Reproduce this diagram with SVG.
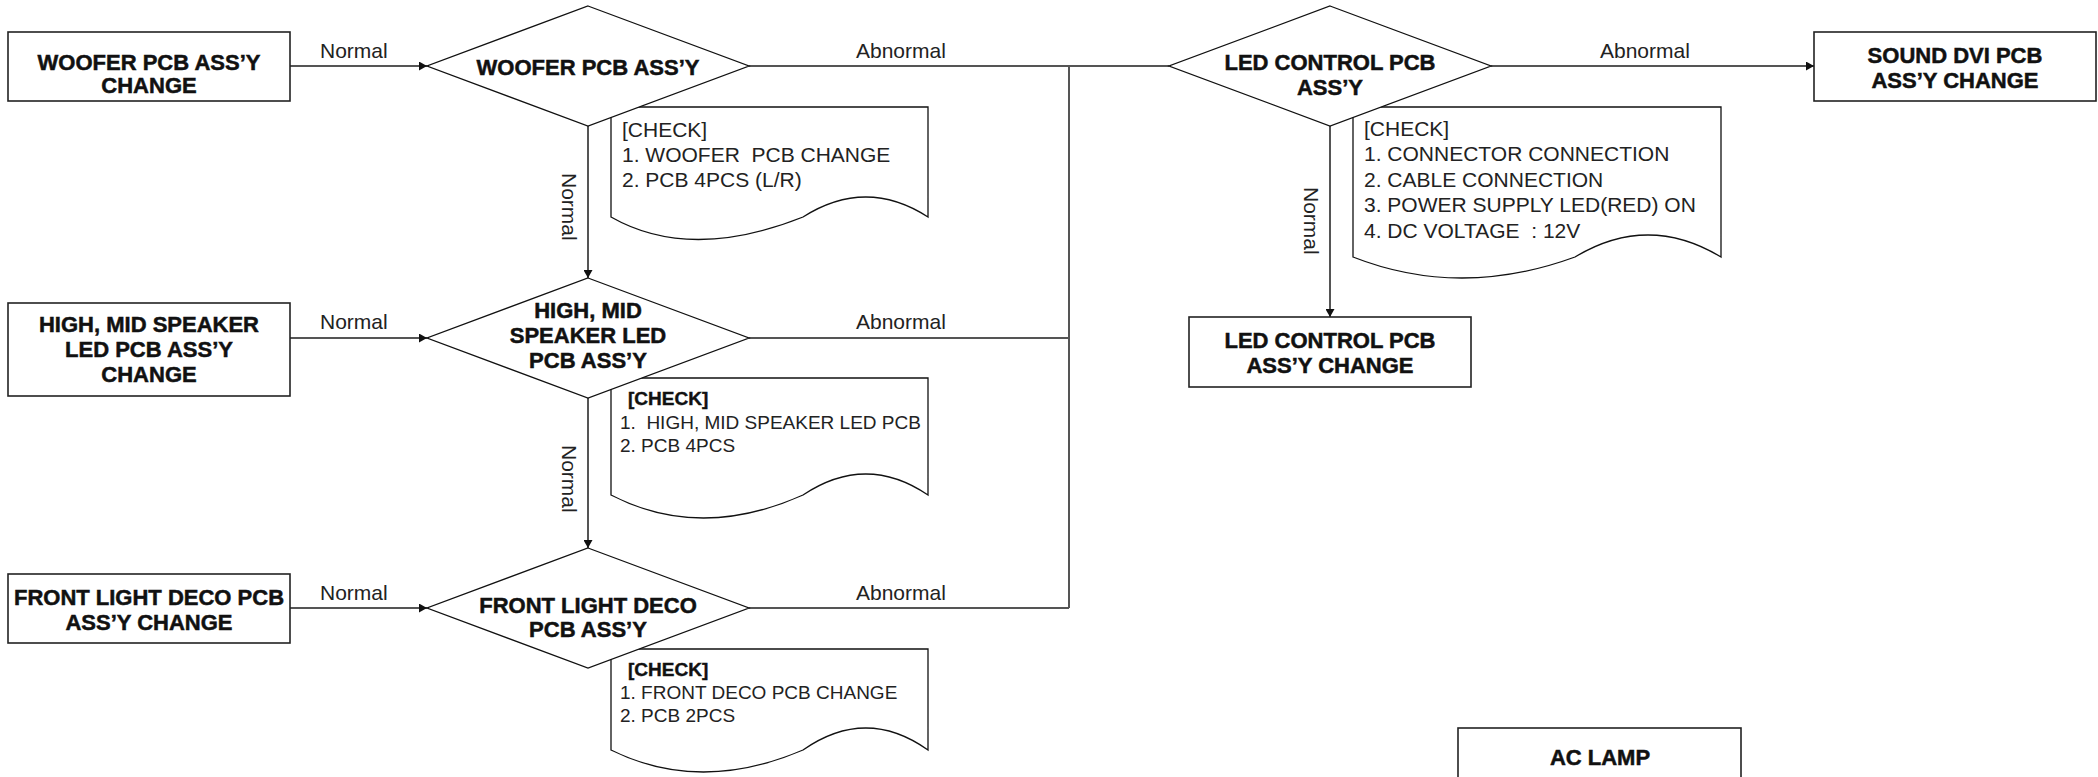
<svg xmlns="http://www.w3.org/2000/svg" width="2098" height="777" viewBox="0 0 2098 777">
<defs>
<style>
.box{fill:#fff;stroke:#222;stroke-width:1.6}
.dia{fill:#fff;stroke:#111;stroke-width:1.3}
.doc{fill:#fff;stroke:#111;stroke-width:1.3}
.con{fill:none;stroke:#555;stroke-width:2}
.b{font-family:"Liberation Sans",Arial,sans-serif;font-weight:bold;font-size:22px;fill:#111;stroke:#111;stroke-width:0.5;text-anchor:middle}
.lbl{font-family:"Liberation Sans",Arial,sans-serif;font-size:21px;fill:#222}
.chk{font-family:"Liberation Sans",Arial,sans-serif;font-size:21px;fill:#222}
.chk2{font-family:"Liberation Sans",Arial,sans-serif;font-size:19px;fill:#222}
.chkb{font-family:"Liberation Sans",Arial,sans-serif;font-size:19px;font-weight:bold;fill:#111;stroke:#111;stroke-width:0.4}
</style>
<marker id="arr" markerWidth="9" markerHeight="9" refX="8" refY="4.5" orient="auto" markerUnits="userSpaceOnUse">
<path d="M0,0 L8,4.5 L0,9 z" fill="#111"/>
</marker>
</defs>
<rect width="2098" height="777" fill="#fff"/>

<g id="connectors">
<line class="con" x1="290" y1="66" x2="427" y2="66" marker-end="url(#arr)"/>
<line class="con" x1="290" y1="338" x2="427" y2="338" marker-end="url(#arr)"/>
<line class="con" x1="290" y1="608" x2="427" y2="608" marker-end="url(#arr)"/>
<line class="con" x1="588" y1="126" x2="588" y2="278" marker-end="url(#arr)"/>
<line class="con" x1="588" y1="398" x2="588" y2="548" marker-end="url(#arr)"/>
<polyline class="con" points="749,66 1069,66 1169,66"/>
<line class="con" x1="749" y1="338" x2="1069" y2="338"/>
<line class="con" x1="749" y1="608" x2="1069" y2="608"/>
<line class="con" x1="1069" y1="66" x2="1069" y2="608"/>
<line class="con" x1="1491" y1="66" x2="1814" y2="66" marker-end="url(#arr)"/>
<line class="con" x1="1330" y1="126" x2="1330" y2="317" marker-end="url(#arr)"/>
<text class="lbl" x="320" y="58">Normal</text>
<text class="lbl" x="320" y="329">Normal</text>
<text class="lbl" x="320" y="600">Normal</text>
<text class="lbl" x="856" y="58">Abnormal</text>
<text class="lbl" x="856" y="329">Abnormal</text>
<text class="lbl" x="856" y="600">Abnormal</text>
<text class="lbl" x="1600" y="58">Abnormal</text>
<text class="lbl" transform="translate(562,173) rotate(90)">Normal</text>
<text class="lbl" transform="translate(562,445) rotate(90)">Normal</text>
<text class="lbl" transform="translate(1304,187) rotate(90)">Normal</text>
</g>

<g id="check-woofer">
<path class="doc" d="M611,107 H928 V217 Q866,177 803,217 Q690,262 611,217 Z"/>
<text class="chk" x="622" y="137">[CHECK]</text>
<text class="chk" x="622" y="162" xml:space="preserve">1. WOOFER  PCB CHANGE</text>
<text class="chk" x="622" y="187">2. PCB 4PCS (L/R)</text>
</g>
<g id="check-highmid">
<path class="doc" d="M611,378 H928 V495 Q866,453 803,495 Q700,541 611,495 Z"/>
<text class="chkb" x="628" y="405">[CHECK]</text>
<text class="chk2" x="620" y="429" xml:space="preserve">1.  HIGH, MID SPEAKER LED PCB</text>
<text class="chk2" x="620" y="452">2. PCB 4PCS</text>
</g>
<g id="check-front">
<path class="doc" d="M611,649 H928 V750 Q866,706 803,750 Q700,794 611,750 Z"/>
<text class="chkb" x="628" y="676">[CHECK]</text>
<text class="chk2" x="620" y="699">1. FRONT DECO PCB CHANGE</text>
<text class="chk2" x="620" y="722">2. PCB 2PCS</text>
</g>
<g id="check-led">
<path class="doc" d="M1353,107 H1721 V257 Q1648,213 1575,257 Q1460,299 1353,257 Z"/>
<text class="chk" x="1364" y="136">[CHECK]</text>
<text class="chk" x="1364" y="161">1. CONNECTOR CONNECTION</text>
<text class="chk" x="1364" y="187">2. CABLE CONNECTION</text>
<text class="chk" x="1364" y="212">3. POWER SUPPLY LED(RED) ON</text>
<text class="chk" x="1364" y="238" xml:space="preserve">4. DC VOLTAGE  : 12V</text>
</g>

<g id="woofer-change">
<rect class="box" x="8" y="32" width="282" height="69"/>
<text class="b" x="149" y="70">WOOFER PCB ASS’Y</text>
<text class="b" x="149" y="93">CHANGE</text>
</g>
<g id="woofer-dia">
<polygon class="dia" points="588,6 749,66 588,126 427,66"/>
<text class="b" x="588" y="75">WOOFER PCB ASS’Y</text>
</g>
<g id="highmid-change">
<rect class="box" x="8" y="303" width="282" height="93"/>
<text class="b" x="149" y="332">HIGH, MID SPEAKER</text>
<text class="b" x="149" y="357">LED PCB ASS’Y</text>
<text class="b" x="149" y="382">CHANGE</text>
</g>
<g id="highmid-dia">
<polygon class="dia" points="588,278 749,338 588,398 427,338"/>
<text class="b" x="588" y="318">HIGH, MID</text>
<text class="b" x="588" y="343">SPEAKER LED</text>
<text class="b" x="588" y="368">PCB ASS’Y</text>
</g>
<g id="front-change">
<rect class="box" x="8" y="574" width="282" height="69"/>
<text class="b" x="149" y="605">FRONT LIGHT DECO PCB</text>
<text class="b" x="149" y="630">ASS’Y CHANGE</text>
</g>
<g id="front-dia">
<polygon class="dia" points="588,548 749,608 588,668 427,608"/>
<text class="b" x="588" y="613">FRONT LIGHT DECO</text>
<text class="b" x="588" y="637">PCB ASS’Y</text>
</g>
<g id="led-dia">
<polygon class="dia" points="1330,6 1491,66 1330,126 1169,66"/>
<text class="b" x="1330" y="70">LED CONTROL PCB</text>
<text class="b" x="1330" y="95">ASS’Y</text>
</g>
<g id="sound-dvi">
<rect class="box" x="1814" y="32" width="282" height="69"/>
<text class="b" x="1955" y="63">SOUND DVI PCB</text>
<text class="b" x="1955" y="88">ASS’Y CHANGE</text>
</g>
<g id="led-change">
<rect class="box" x="1189" y="317" width="282" height="70"/>
<text class="b" x="1330" y="348">LED CONTROL PCB</text>
<text class="b" x="1330" y="373">ASS’Y CHANGE</text>
</g>
<g id="ac-lamp">
<rect class="box" x="1458" y="728" width="283" height="80"/>
<text class="b" x="1600" y="765">AC LAMP</text>
</g>
</svg>
